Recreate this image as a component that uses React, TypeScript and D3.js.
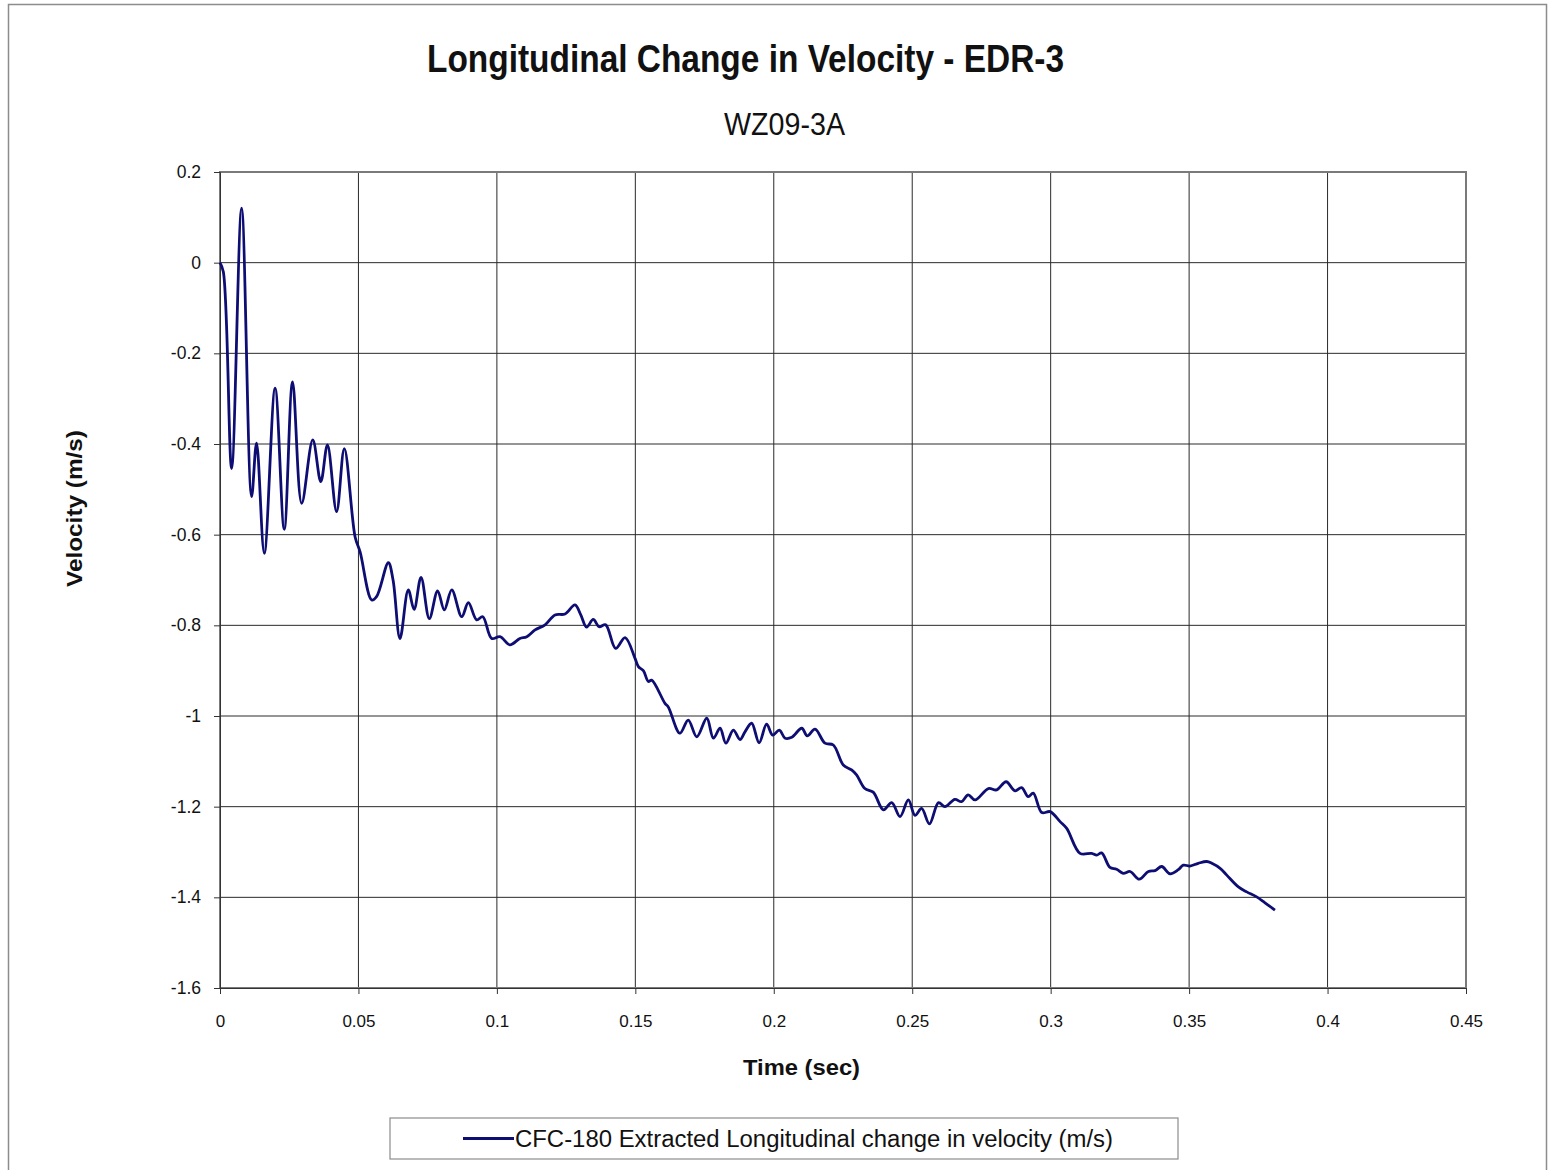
import React, { useEffect, useRef } from "react";
import * as d3 from "d3";

const chartTitle = "Longitudinal Change in Velocity - EDR-3";
const chartSubtitle = "WZ09-3A";
const xLabel = "Time (sec)";
const yLabel = "Velocity (m/s)";
const legendLabel = "CFC-180 Extracted Longitudinal change in velocity (m/s)";

const xTicks = [0, 0.05, 0.1, 0.15, 0.2, 0.25, 0.3, 0.35, 0.4, 0.45];
const yTicks = [0.2, 0, -0.2, -0.4, -0.6, -0.8, -1, -1.2, -1.4, -1.6];

// time (s)
const times = [
  0, 0.0012, 0.0042, 0.0078, 0.0114, 0.0132, 0.016, 0.0199, 0.0232, 0.0262,
  0.0295, 0.0335, 0.0364, 0.0388, 0.0421, 0.0449, 0.0488, 0.0506, 0.0548, 0.0566,
  0.0608, 0.0625, 0.065, 0.068, 0.0701, 0.0726, 0.0756, 0.0786, 0.081, 0.0837,
  0.0873, 0.0897, 0.0927, 0.0949, 0.0981, 0.1011, 0.1047, 0.1083, 0.1108, 0.1138,
  0.1174, 0.121, 0.1246, 0.1282, 0.1303, 0.1324, 0.1348, 0.1369, 0.1393, 0.1429,
  0.1463, 0.1499, 0.1511, 0.1529, 0.1547, 0.1559, 0.1607, 0.1619, 0.1661, 0.1691,
  0.1722, 0.1758, 0.1782, 0.1806, 0.1827, 0.1854, 0.1878, 0.1896, 0.192, 0.1947,
  0.1974, 0.1996, 0.202, 0.2041, 0.2065, 0.2101, 0.2121, 0.2149, 0.2185, 0.2215,
  0.2251, 0.2281, 0.2299, 0.2329, 0.2359, 0.2396, 0.2426, 0.2456, 0.2486, 0.251,
  0.2534, 0.2562, 0.2595, 0.2618, 0.2654, 0.2678, 0.2702, 0.2727, 0.2775, 0.2805,
  0.2839, 0.2871, 0.2895, 0.2919, 0.2937, 0.2968, 0.2998, 0.3034, 0.3058, 0.3106,
  0.3148, 0.3166, 0.3184, 0.3214, 0.3238, 0.3262, 0.3287, 0.332, 0.3353, 0.3377,
  0.3401, 0.3431, 0.3461, 0.3479, 0.3503, 0.3533, 0.3564, 0.3582, 0.3612, 0.3636,
  0.3678, 0.3708, 0.3744, 0.3774, 0.381,
];

// change in velocity (m/s)
const velocity = [
  0, -0.02, -0.454, 0.12, -0.516, -0.398, -0.641, -0.277, -0.588, -0.263,
  -0.531, -0.391, -0.483, -0.402, -0.549, -0.41, -0.605, -0.638, -0.744, -0.736,
  -0.662, -0.7, -0.829, -0.722, -0.765, -0.694, -0.785, -0.724, -0.766, -0.722,
  -0.781, -0.75, -0.788, -0.781, -0.829, -0.825, -0.843, -0.829, -0.825, -0.81,
  -0.799, -0.777, -0.775, -0.755, -0.777, -0.804, -0.787, -0.803, -0.799, -0.851,
  -0.827, -0.873, -0.891, -0.9, -0.924, -0.921, -0.972, -0.98, -1.038, -1.009,
  -1.046, -1.005, -1.049, -1.027, -1.06, -1.031, -1.052, -1.035, -1.016, -1.059,
  -1.018, -1.042, -1.031, -1.049, -1.047, -1.027, -1.044, -1.029, -1.06, -1.064,
  -1.108, -1.119, -1.13, -1.16, -1.168, -1.207, -1.191, -1.222, -1.185, -1.219,
  -1.204, -1.238, -1.191, -1.2, -1.184, -1.189, -1.174, -1.185, -1.16, -1.163,
  -1.145, -1.165, -1.158, -1.178, -1.17, -1.213, -1.211, -1.233, -1.248, -1.303,
  -1.303, -1.307, -1.302, -1.334, -1.338, -1.347, -1.343, -1.36, -1.343, -1.341,
  -1.332, -1.348, -1.339, -1.329, -1.331, -1.325, -1.321, -1.325, -1.336, -1.351,
  -1.377, -1.388, -1.399, -1.412, -1.428,
];

const App = () => {
  const chartRef = useRef(null);
  const width = 1548;
  const height = 1170;
  const marginLeft = 220;
  const marginRight = 82;
  const marginTop = 172;
  const marginBottom = 182;

  useEffect(() => {
    if (!chartRef.current) return;
    const svg = d3.select(chartRef.current);
    svg.selectAll("*").remove();

    const x = d3.scaleLinear([0, 0.45], [marginLeft, width - marginRight]);
    const y = d3.scaleLinear([-1.6, 0.2], [height - marginBottom, marginTop]);
    const font = "'Liberation Sans', Arial, sans-serif";

    svg
      .append("rect")
      .attr("width", width)
      .attr("height", height)
      .attr("fill", "#fff");

    // Outer chart frame
    svg
      .append("rect")
      .attr("x", 8.5)
      .attr("y", 4.5)
      .attr("width", width - 10)
      .attr("height", height)
      .attr("fill", "none")
      .attr("stroke", "#8c8c8c")
      .attr("stroke-width", 1.5);

    // Grid lines
    const grid = svg.append("g").attr("stroke", "#2a2a2a").attr("stroke-width", 1);
    grid
      .selectAll(".vgrid")
      .data(xTicks.slice(1, -1))
      .join("line")
      .attr("x1", (d) => x(d))
      .attr("x2", (d) => x(d))
      .attr("y1", y(0.2))
      .attr("y2", y(-1.6));
    grid
      .selectAll(".hgrid")
      .data(yTicks.slice(1, -1))
      .join("line")
      .attr("x1", x(0))
      .attr("x2", x(0.45))
      .attr("y1", (d) => y(d))
      .attr("y2", (d) => y(d));

    // Plot border
    svg
      .append("rect")
      .attr("x", x(0))
      .attr("y", y(0.2))
      .attr("width", x(0.45) - x(0))
      .attr("height", y(-1.6) - y(0.2))
      .attr("fill", "none")
      .attr("stroke", "#7a7a7a")
      .attr("stroke-width", 2);

    // Axes
    svg
      .append("g")
      .attr("transform", `translate(${x(0)},0)`)
      .call(
        d3
          .axisLeft(y)
          .tickValues(yTicks)
          .tickFormat((d) => `${d}`)
          .tickSize(6)
          .tickPadding(13)
      )
      .call((g) => g.select(".domain").attr("stroke", "#333"))
      .call((g) => g.selectAll(".tick line").attr("stroke", "#333"))
      .call((g) =>
        g
          .selectAll(".tick text")
          .attr("font-family", font)
          .attr("font-size", 17.5)
          .attr("fill", "#111")
      );

    svg
      .append("g")
      .attr("transform", `translate(0,${y(-1.6)})`)
      .call(
        d3
          .axisBottom(x)
          .tickValues(xTicks)
          .tickFormat((d) => `${d}`)
          .tickSize(6)
          .tickPadding(21)
      )
      .call((g) => g.select(".domain").attr("stroke", "#333"))
      .call((g) => g.selectAll(".tick line").attr("stroke", "#333"))
      .call((g) =>
        g
          .selectAll(".tick text")
          .attr("font-family", font)
          .attr("font-size", 17)
          .attr("fill", "#111")
      );

    // The data line
    const points = times.map((t, i) => [t, velocity[i]]);
    const line = d3
      .line()
      .x((d) => x(d[0]))
      .y((d) => y(d[1]))
      .curve(d3.curveCatmullRom.alpha(0.5));

    svg
      .append("path")
      .attr("fill", "none")
      .attr("stroke", "#0d0d73")
      .attr("stroke-width", 2.8)
      .attr("stroke-linejoin", "round")
      .attr("d", line(points));

    // Titles (reference fonts are tall and narrow, so stretch to its widths)
    const addText = (tx, ty, txt, size, bold, len) =>
      svg
        .append("text")
        .attr("x", tx)
        .attr("y", ty)
        .attr("text-anchor", "middle")
        .attr("font-family", font)
        .attr("font-weight", bold ? "bold" : "normal")
        .attr("font-size", size)
        .attr("fill", "#111")
        .attr("textLength", len)
        .attr("lengthAdjust", "spacingAndGlyphs")
        .text(txt);

    addText(745.5, 72, chartTitle, 38, true, 637);
    addText(784.5, 135, chartSubtitle, 31, false, 121);
    addText(801.5, 1075, xLabel, 22, true, 117);

    addText(0, 0, yLabel, 22, true, 157).attr(
      "transform",
      "translate(82,508.5) rotate(-90)"
    ).attr("x", 0).attr("y", 0);

    // Legend
    const legend = svg.append("g").attr("transform", "translate(390,1118)");
    legend
      .append("rect")
      .attr("width", 788)
      .attr("height", 41)
      .attr("fill", "#fff")
      .attr("stroke", "#8c8c8c")
      .attr("stroke-width", 1.2);
    legend
      .append("line")
      .attr("x1", 73)
      .attr("x2", 124)
      .attr("y1", 20.5)
      .attr("y2", 20.5)
      .attr("stroke", "#0d0d73")
      .attr("stroke-width", 2.8);
    legend
      .append("text")
      .attr("x", 125)
      .attr("y", 29)
      .attr("font-family", font)
      .attr("font-size", 23)
      .attr("fill", "#111")
      .attr("textLength", 598)
      .attr("lengthAdjust", "spacingAndGlyphs")
      .text(legendLabel);
  }, []);

  return (
    <div style={{ position: "absolute", left: 0, top: 0 }}>
      <svg ref={chartRef} width={width} height={height} style={{ display: "block" }} />
    </div>
  );
};

export default App;
